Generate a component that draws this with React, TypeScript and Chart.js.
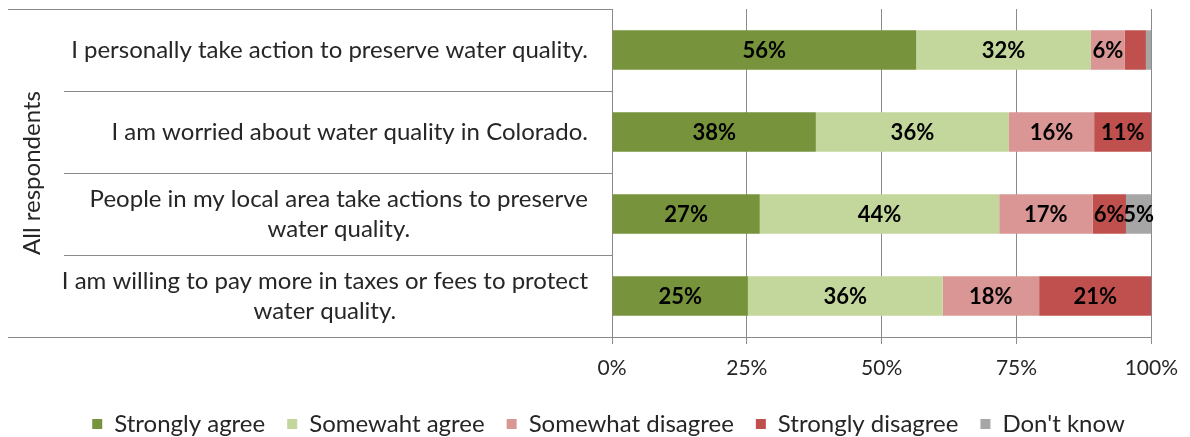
import React, { useEffect, useRef } from "react";
import { Chart, registerables } from "chart.js";

Chart.register(...registerables);

// ---- data ----
const categories: string[][] = [
  ["I personally take action to preserve water quality."],
  ["I am worried about water quality in Colorado."],
  ["People in my local area take actions to preserve", "water quality."],
  ["I am willing to pay more in taxes or fees to protect", "water quality."],
];
const groupLabel = "All respondents";
const seriesNames = [
  "Strongly agree",
  "Somewaht agree",
  "Somewhat disagree",
  "Strongly disagree",
  "Don't know",
];
const stronglyAgree = [56.4, 37.8, 27.4, 25.2];
const somewhatAgree = [32.4, 35.8, 44.4, 36.1];
const somewhatDisagree = [6.3, 15.8, 17.3, 17.9];
const stronglyDisagree = [3.9, 10.6, 6.2, 20.8];
const dontKnow = [1.0, 0, 4.7, 0];
const xTicks = [0, 25, 50, 75, 100];
const minLabelValue = 4.5;

// ---- styles ----
const seriesColors = ["#77933C", "#C3D69B", "#D99694", "#C0504D", "#A6A6A6"];
const FONT = "Lato, 'Open Sans', sans-serif";
const TEXT = "#262626";
const LINE = "#8a8a8a";
const CAT_FS = 24;
const TICK_FS = 21;
const LEGEND_FS = 24;
const DATA_FS = 22;
const PLOT_LEFT = 612;
const X_AXIS_H = 44;
const LEGEND_SHIFT_X = 32;
const LEGEND_SHIFT_Y = 9;

const legendShiftPlugin = {
  id: "legendShift",
  afterLayout(chart: any) {
    const lg = chart.legend;
    if (!lg) return;
    lg.left += LEGEND_SHIFT_X;
    lg.right += LEGEND_SHIFT_X;
    lg.top += LEGEND_SHIFT_Y;
    lg.bottom += LEGEND_SHIFT_Y;
  },
};

const categoryAxisPlugin = {
  id: "categoryAxis",
  afterDraw(chart: any) {
    const { ctx, chartArea, scales } = chart;
    const y = scales.y;
    const centers = categories.map((_, i) => y.getPixelForValue(i));
    const half = (centers[1] - centers[0]) / 2;
    const al = (v: number) => Math.round(v) + 0.5;
    ctx.save();
    ctx.strokeStyle = LINE;
    ctx.lineWidth = 1;
    ctx.beginPath();
    ctx.moveTo(8, al(chartArea.top));
    ctx.lineTo(chartArea.left, al(chartArea.top));
    for (let i = 0; i < centers.length - 1; i++) {
      const b = al(centers[i] + half);
      ctx.moveTo(64, b);
      ctx.lineTo(chartArea.left, b);
    }
    ctx.moveTo(8, al(chartArea.bottom));
    ctx.lineTo(chartArea.left, al(chartArea.bottom));
    ctx.stroke();

    ctx.font = `${CAT_FS}px ${FONT}`;
    ctx.fillStyle = TEXT;
    ctx.textAlign = "center";
    ctx.textBaseline = "middle";
    const rightEdge = chartArea.left - 24;
    const lh = 30;
    categories.forEach((lines, i) => {
      const w = Math.max(...lines.map((l) => ctx.measureText(l).width));
      const cx = rightEdge - w / 2;
      lines.forEach((l, j) => {
        ctx.fillText(l, cx, centers[i] + (j - (lines.length - 1) / 2) * lh);
      });
    });
    ctx.translate(32, (chartArea.top + chartArea.bottom) / 2);
    ctx.rotate(-Math.PI / 2);
    ctx.fillText(groupLabel, 0, 0);
    ctx.restore();
  },
};

const dataLabelPlugin = {
  id: "dataLabels",
  afterDatasetsDraw(chart: any) {
    const { ctx } = chart;
    ctx.save();
    ctx.font = `bold ${DATA_FS}px ${FONT}`;
    ctx.fillStyle = "#000000";
    ctx.textAlign = "center";
    ctx.textBaseline = "middle";
    chart.data.datasets.forEach((ds: any, d: number) => {
      const meta = chart.getDatasetMeta(d);
      meta.data.forEach((bar: any, i: number) => {
        const v = ds.data[i];
        if (v < minLabelValue) return;
        const p = bar.getProps(["x", "y", "base"], true);
        ctx.fillText(`${Math.round(v)}%`, (p.x + p.base) / 2, p.y + 1);
      });
    });
    ctx.restore();
  },
};

export default function App() {
  const ref = useRef<HTMLCanvasElement>(null);
  useEffect(() => {
    if (!ref.current) return;
    const values = [stronglyAgree, somewhatAgree, somewhatDisagree, stronglyDisagree, dontKnow];
    const chart = new Chart(ref.current, {
      type: "bar",
      data: {
        labels: categories.map((c) => c.join(" ")),
        datasets: seriesNames.map((name, k) => ({
          label: name,
          data: values[k],
          backgroundColor: seriesColors[k],
          borderWidth: 0,
          barPercentage: 0.48,
          categoryPercentage: 1,
        })),
      },
      options: {
        indexAxis: "y",
        responsive: false,
        animation: false,
        layout: { padding: { left: 0, right: 37, top: 9, bottom: 0 } },
        scales: {
          x: {
            stacked: true,
            min: 0,
            max: 100,
            afterBuildTicks: (axis: any) => {
              axis.ticks = xTicks.map((v) => ({ value: v }));
            },
            afterFit: (axis: any) => {
              axis.height = X_AXIS_H;
            },
            ticks: {
              callback: (v: any) => `${v}%`,
              font: { family: FONT, size: TICK_FS },
              color: TEXT,
              padding: 12,
              maxRotation: 0,
            },
            grid: { color: LINE, lineWidth: 1, tickLength: 7, drawTicks: true },
            border: { display: true, color: LINE, width: 1 },
          },
          y: {
            stacked: true,
            display: true,
            ticks: { display: false },
            grid: { display: false, drawTicks: false },
            border: { display: false },
            afterFit: (axis: any) => {
              axis.width = PLOT_LEFT;
            },
          },
        },
        plugins: {
          legend: {
            position: "bottom",
            labels: {
              font: { family: FONT, size: LEGEND_FS },
              color: TEXT,
              boxWidth: 10,
              boxHeight: 10,
              padding: 22,
            },
          },
          tooltip: { enabled: false },
        },
      },
      plugins: [legendShiftPlugin, categoryAxisPlugin, dataLabelPlugin],
    });
    return () => chart.destroy();
  }, []);
  return (
    <div style={{ position: "fixed", left: 0, top: 0, width: 1190, height: 437, background: "#fff" }}>
      <canvas ref={ref} width={1190} height={437} />
    </div>
  );
}
